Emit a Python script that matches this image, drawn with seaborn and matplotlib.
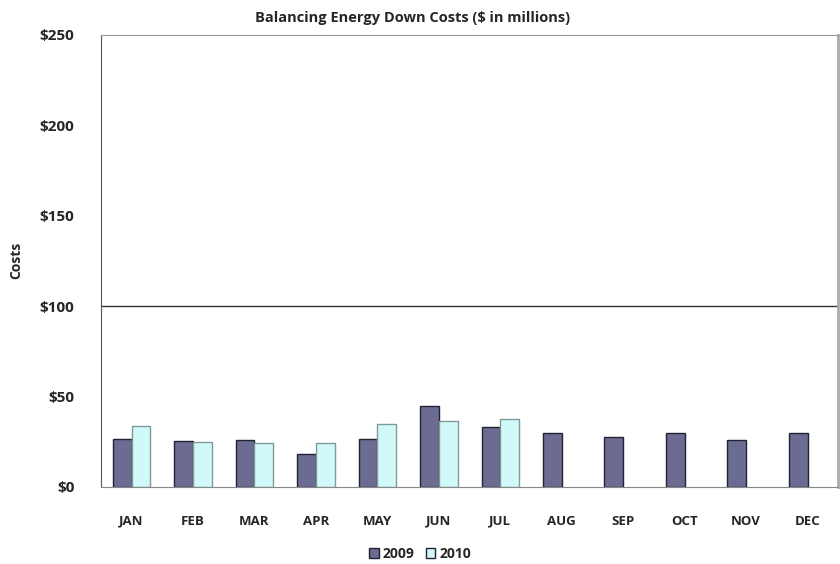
import numpy as np
import pandas as pd
import matplotlib
matplotlib.use("Agg")
import matplotlib.pyplot as plt
import seaborn as sns

months = ["JAN", "FEB", "MAR", "APR", "MAY", "JUN", "JUL", "AUG", "SEP", "OCT", "NOV", "DEC"]
costs_2009 = [26.5, 25.4, 25.6, 18.3, 26.5, 44.4, 33.2, 29.7, 27.5, 29.7, 25.6, 30.0]
costs_2010 = [33.5, 24.9, 24.2, 24.2, 34.7, 36.1, 37.4, np.nan, np.nan, np.nan, np.nan, np.nan]
yticks = [0, 50, 100, 150, 200, 250]

df = pd.DataFrame({
    "month": months * 2,
    "year": ["2009"] * 12 + ["2010"] * 12,
    "cost": costs_2009 + costs_2010,
})

sns.set_style("white")
plt.rcParams["font.family"] = ["Open Sans", "DejaVu Sans"]

fig, ax = plt.subplots(figsize=(8.4, 5.64), dpi=100)
fig.subplots_adjust(left=0.12, right=0.998, top=0.938, bottom=0.137)

palette = {"2009": "#666699", "2010": "#CCFFFF"}
sns.barplot(data=df, x="month", y="cost", hue="year", palette=palette,
            width=0.61, ax=ax, legend=True)

for bar, year in zip(ax.patches, ["2009"] * 12 + ["2010"] * 12):
    bar.set_edgecolor("#222233" if year == "2009" else "#7f9999")
    bar.set_linewidth(1.0)

ax.set_ylim(0, 250)
ax.set_xlim(-0.5, 11.5)
ax.set_yticks(yticks)
ax.set_yticklabels([f"${v}" for v in yticks], fontsize=11, fontweight="bold")
ax.set_xticks(range(12))
ax.set_xticklabels(months, fontsize=9.5, fontweight="bold")
ax.tick_params(axis="x", length=0, pad=20)
ax.tick_params(axis="y", length=4, direction="out", color="#555555", pad=15)

# minor ticks between categories
ax.set_xticks(np.arange(-0.5, 12, 1), minor=True)
ax.tick_params(axis="x", which="minor", length=5, direction="out", color="#777777")

ax.axhline(100, color="#333333", linewidth=1.0, zorder=0)

ax.spines["left"].set_color("#555555")
ax.spines["bottom"].set_color("#888888")
ax.spines["top"].set_color("#999999")
ax.spines["right"].set_color("#aaaaaa")
ax.spines["right"].set_linewidth(2)
for s in ax.spines.values():
    s.set_visible(True)

ax.set_xlabel("")
ax.set_ylabel("Costs", fontsize=10, fontweight="bold", labelpad=12)
ax.set_title("Balancing Energy Down Costs ($ in millions)", fontsize=10.5, fontweight="bold",
             pad=9, x=0.423)

leg = ax.legend(loc="upper center", bbox_to_anchor=(0.433, -0.105), ncol=2, frameon=False,
                fontsize=10, handlelength=0.7, handleheight=0.7, columnspacing=0.8,
                handletextpad=0.3)
for h in leg.legend_handles:
    h.set_edgecolor("#222233")
for t in leg.get_texts():
    t.set_fontweight("bold")

fig.savefig("out.png", dpi=100)
